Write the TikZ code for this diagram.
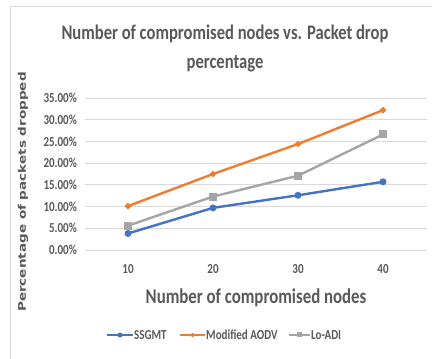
\documentclass[tikz,border=0pt]{standalone}
\usepackage{fontspec}
\setmainfont{Carlito}
\newfontfamily\ylabfont{DejaVu Sans}
\usepackage{xcolor}
\usepackage{tikz}
\usetikzlibrary{positioning, shapes.geometric, calc}

\definecolor{ssgmtblue}{HTML}{4472C4}
\definecolor{aodvorange}{HTML}{ED7D31}
\definecolor{loadigray}{HTML}{A5A5A5}
\definecolor{txtgray}{HTML}{595959}
\definecolor{gridgray}{HTML}{D9D9D9}

\begin{document}
\begin{tikzpicture}[
            x=1pt, y=1pt,
            tall/.style={yscale=1.25, transform shape},
            ticklab/.style={text=txtgray, font=\fontsize{11}{13}\selectfont\bfseries, inner sep=0pt, tall},
            series/.style={line width=2.4pt},
            dotmark/.style={circle, fill=ssgmtblue, minimum size=7pt, inner sep=0pt},
            diamark/.style={diamond, fill=aodvorange, minimum size=7pt, inner sep=0pt},
            sqmark/.style={rectangle, fill=loadigray, minimum size=8pt, inner sep=0pt}
        ]
        \useasboundingbox (0,0) rectangle (432,359);
        % chart frame
        \draw[gridgray, line width=0.8pt] (10,-2) -- (10,353) -- (434,353);

        % title
        \node[text=txtgray, align=center, tall, font=\fontsize{16.6}{23.2}\selectfont\bfseries] (title) at (225,311) {Number of compromised nodes vs. Packet drop\\percentage};

        \begin{scope}[shift={(43,109)}, x=8.5pt, y=4.343pt]
            % grid and y ticks
            \foreach \v in {0,5,...,35} {
                \draw[gridgray, line width=0.8pt] (4.94,\v) -- (45.2,\v);
                \node[ticklab, anchor=east] (ytick\v) at (4,\v) {\v.00\%};
            }
            % x ticks
            \foreach \n in {10,20,30,40}
                \node[ticklab] (xtick\n) at (\n,-4.4) {\n};

            % data points
            \coordinate (s1) at (10,3.8);  \coordinate (s2) at (20,9.7);
            \coordinate (s3) at (30,12.6); \coordinate (s4) at (40,15.7);
            \coordinate (m1) at (10,10.1); \coordinate (m2) at (20,17.5);
            \coordinate (m3) at (30,24.4); \coordinate (m4) at (40,32.2);
            \coordinate (l1) at (10,5.6);  \coordinate (l2) at (20,12.3);
            \coordinate (l3) at (30,17.1); \coordinate (l4) at (40,26.6);
        \end{scope}

        % series
        \draw[series, ssgmtblue] (s1) -- (s2) -- (s3) -- (s4);
        \draw[series, aodvorange] (m1) -- (m2) -- (m3) -- (m4);
        \draw[series, loadigray] (l1) -- (l2) -- (l3) -- (l4);
        \foreach \i in {1,...,4} {
            \node[sqmark] at (l\i) {};
            \node[diamark] at (m\i) {};
            \node[dotmark] at (s\i) {};
        }

        % axis titles
        \node[text=txtgray, tall, font=\fontsize{16.8}{18}\selectfont\bfseries] (xlab) at (256,61) {Number of compromised nodes};
        \node[text=txtgray, rotate=90, font=\ylabfont\fontsize{10.5}{13}\selectfont\bfseries] (ylab) at (23,167) {\scalebox{1.29}[1]{Percentage of packets dropped}};

        % legend
        \coordinate (k1a) at (107,24); \coordinate (k1b) at (133,24);
        \coordinate (k2a) at (180,24); \coordinate (k2b) at (205,24);
        \coordinate (k3a) at (289,24); \coordinate (k3b) at (310,24);
        \draw[series, ssgmtblue] (k1a) -- (k1b);
        \node[dotmark, minimum size=5pt] (k1) at ($(k1a)!0.5!(k1b)$) {};
        \draw[series, aodvorange] (k2a) -- (k2b);
        \node[diamark, minimum size=5pt] (k2) at ($(k2a)!0.5!(k2b)$) {};
        \draw[series, loadigray] (k3a) -- (k3b);
        \node[sqmark, minimum size=5pt] (k3) at ($(k3a)!0.5!(k3b)$) {};
        \node[ticklab, anchor=west, right=1pt of k1b] (leg1) {SSGMT};
        \node[ticklab, anchor=west, right=1pt of k2b] (leg2) {Modified AODV};
        \node[ticklab, anchor=west, right=1pt of k3b] (leg3) {Lo-ADI};

    \end{tikzpicture}
\end{document}
